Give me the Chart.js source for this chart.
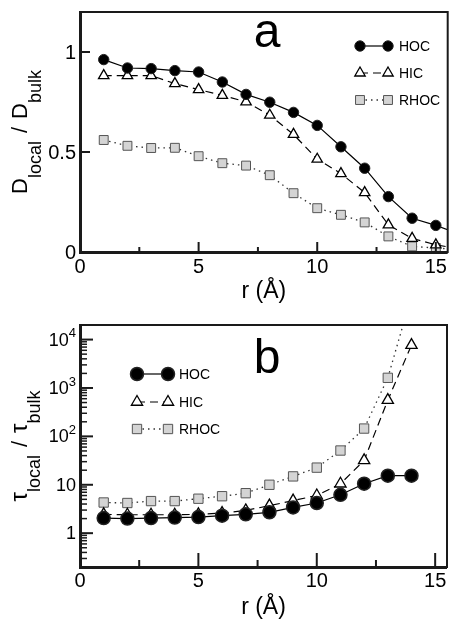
<!DOCTYPE html>
<html>
<head>
<meta charset="utf-8">
<script src="https://cdn.jsdelivr.net/npm/chart.js@4/dist/chart.umd.min.js"></script>
<style>
  html, body { margin: 0; padding: 0; background: #fff; }
  #wrap { position: relative; width: 455px; height: 623px; }
  #topBox { position: absolute; left: 0; top: 0; }
  #botBox { position: absolute; left: 0; top: 310px; }
</style>
</head>
<body>
<div id="wrap">
  <div id="topBox"><canvas id="chartD" width="455" height="310"></canvas></div>
  <div id="botBox"><canvas id="chartTau" width="455" height="313"></canvas></div>
</div>
<script>
// ---- data ----
const seriesNames = ['HOC', 'HIC', 'RHOC'];

// panel a: D_local / D_bulk vs r
const rD = [1, 2, 3, 4, 5, 6, 7, 8, 9, 10, 11, 12, 13, 14, 15, 16];
const hocD  = [0.962, 0.920, 0.917, 0.907, 0.900, 0.850, 0.788, 0.749, 0.698, 0.633, 0.526, 0.419, 0.277, 0.169, 0.133, 0.09];
const hicD  = [0.882, 0.882, 0.882, 0.842, 0.812, 0.783, 0.751, 0.684, 0.588, 0.464, 0.392, 0.297, 0.136, 0.068, 0.036, 0.015];
const rhocD = [0.560, 0.531, 0.520, 0.521, 0.479, 0.444, 0.432, 0.384, 0.294, 0.219, 0.186, 0.148, 0.078, 0.028, 0.020, 0.012];

// panel b: tau_local / tau_bulk vs r
const rTau = [1, 2, 3, 4, 5, 6, 7, 8, 9, 10, 11, 12, 13, 14];
const hocTau  = [2.05, 2.0, 2.05, 2.1, 2.15, 2.3, 2.45, 2.7, 3.4, 4.2, 6.2, 10.5, 15.4, 15.4];
const hicTau  = [2.45, 2.4, 2.4, 2.4, 2.45, 2.6, 2.95, 3.7, 4.7, 6.0, 10.5, 32, 560, 7700];
const rhocTau = [4.3, 4.2, 4.6, 4.6, 5.15, 5.8, 6.7, 10.0, 14.9, 22.6, 51, 145, 1620, 80000];

// ticks
const xTicks = [0, 5, 10, 15];
const xMinorTicks = [2.5, 7.5, 12.5];
const dTicks = [0, 0.5, 1];
const dTickLabels = ['0', '0.5', '1'];
const tauTicks = [1, 10, 100, 1000, 10000];
const tauTickLabels = [['1', ''], ['10', ''], ['10', '2'], ['10', '3'], ['10', '4']];

const FONT = '"Liberation Sans", Arial, Helvetica, sans-serif';

function pts(xs, ys) {
  return xs.map((x, i) => ({ x: x, y: ys[i] }));
}

// marker drawing for the hand-made legend
function drawMarker(ctx, ds, x, y) {
  const r = ds.pointRadius;
  ctx.save();
  ctx.setLineDash([]);
  ctx.fillStyle = ds.pointBackgroundColor;
  ctx.strokeStyle = ds.pointBorderColor;
  ctx.lineWidth = ds.pointBorderWidth;
  ctx.beginPath();
  if (ds.pointStyle === 'circle') {
    ctx.arc(x, y, r, 0, Math.PI * 2);
  } else if (ds.pointStyle === 'triangle') {
    let a = 0;
    ctx.moveTo(x + Math.sin(a) * r, y - Math.cos(a) * r);
    a += Math.PI * 2 / 3;
    ctx.lineTo(x + Math.sin(a) * r, y - Math.cos(a) * r);
    a += Math.PI * 2 / 3;
    ctx.lineTo(x + Math.sin(a) * r, y - Math.cos(a) * r);
    ctx.closePath();
  } else {
    const s = Math.SQRT1_2 * r;
    ctx.rect(x - s, y - s, 2 * s, 2 * s);
  }
  ctx.fill();
  ctx.stroke();
  ctx.restore();
}

// rotated axis title with subscripts
function drawYTitle(ctx, baseX, cy, parts) {
  ctx.save();
  let total = 0;
  parts.forEach(p => {
    ctx.font = p.size + 'px ' + FONT;
    p.w = ctx.measureText(p.t).width + (p.gap || 0);
    total += p.w;
  });
  ctx.translate(baseX, cy);
  ctx.rotate(-Math.PI / 2);
  ctx.fillStyle = '#000';
  ctx.textBaseline = 'alphabetic';
  ctx.textAlign = 'left';
  let x = -total / 2;
  parts.forEach(p => {
    ctx.font = p.size + 'px ' + FONT;
    ctx.fillText(p.t, x + (p.gap || 0) / 2, p.dy || 0);
    x += p.w;
  });
  ctx.restore();
}

function makeDecor(cfg) {
  return {
    id: 'decor',
    afterDatasetsDraw(chart) {
      const ctx = chart.ctx;
      const a = chart.chartArea;
      const xs = chart.scales.x;
      const ys = chart.scales.y;
      ctx.save();
      ctx.strokeStyle = '#1a1a1a';
      ctx.setLineDash([]);

      // frame
      ctx.lineWidth = 2;
      ctx.strokeRect(a.left, a.top, a.right - a.left, a.bottom - a.top);
      ctx.lineWidth = 3;
      ctx.beginPath();
      ctx.moveTo(a.left + 0.5, a.top);
      ctx.lineTo(a.left + 0.5, a.bottom + 0.5);
      ctx.lineTo(a.right, a.bottom + 0.5);
      ctx.stroke();

      // x ticks (inward)
      ctx.lineWidth = 2;
      xTicks.forEach(v => {
        const px = xs.getPixelForValue(v);
        ctx.beginPath();
        ctx.moveTo(px, a.bottom);
        ctx.lineTo(px, a.bottom - cfg.xMajor);
        ctx.stroke();
      });
      xMinorTicks.forEach(v => {
        const px = xs.getPixelForValue(v);
        ctx.beginPath();
        ctx.moveTo(px, a.bottom);
        ctx.lineTo(px, a.bottom - cfg.xMinor);
        ctx.stroke();
      });

      // y ticks (inward)
      cfg.yTicks.forEach(v => {
        const py = ys.getPixelForValue(v);
        ctx.beginPath();
        ctx.moveTo(a.left, py);
        ctx.lineTo(a.left + cfg.yMajor, py);
        ctx.stroke();
      });
      if (cfg.logMinor) {
        ctx.lineWidth = 1.5;
        for (let d = 0.1; d <= 10000; d *= 10) {
          for (let m = 2; m <= 9; m++) {
            const v = d * m;
            if (v < ys.min || v > ys.max) continue;
            const py = ys.getPixelForValue(v);
            ctx.beginPath();
            ctx.moveTo(a.left, py);
            ctx.lineTo(a.left + cfg.yMinor, py);
            ctx.stroke();
          }
        }
      }

      // tick labels
      ctx.fillStyle = '#000';
      ctx.font = cfg.xFont + 'px ' + FONT;
      ctx.textAlign = 'center';
      ctx.textBaseline = 'middle';
      xTicks.forEach(v => {
        ctx.fillText(String(v), xs.getPixelForValue(v), a.bottom + cfg.xLabelOff);
      });
      ctx.textAlign = 'right';
      cfg.yTicks.forEach((v, i) => {
        const py = ys.getPixelForValue(v);
        const lab = cfg.yLabels[i];
        const right = a.left - 4;
        if (Array.isArray(lab)) {
          ctx.font = cfg.expFont + 'px ' + FONT;
          const ew = lab[1] ? ctx.measureText(lab[1]).width : 0;
          if (lab[1]) ctx.fillText(lab[1], right, py - 6);
          ctx.font = cfg.yFont + 'px ' + FONT;
          ctx.fillText(lab[0], right - ew, py + 1);
        } else {
          ctx.font = cfg.yFont + 'px ' + FONT;
          ctx.fillText(lab, right, py + 1);
        }
      });

      // x title
      ctx.textAlign = 'center';
      ctx.font = '23px ' + FONT;
      ctx.fillText('r (\u00C5)', (a.left + a.right) / 2, a.bottom + cfg.xTitleOff);

      // y title
      drawYTitle(ctx, 27, (a.top + a.bottom) / 2, cfg.yTitle);

      // panel letter
      ctx.font = '48px ' + FONT;
      ctx.textAlign = 'center';
      ctx.textBaseline = 'alphabetic';
      ctx.fillText(cfg.letter, 267, cfg.letterY);

      // legend
      chart.data.datasets.forEach((ds, i) => {
        const y = cfg.legY[i];
        ctx.save();
        ctx.strokeStyle = ds.borderColor;
        ctx.lineWidth = ds.borderWidth;
        ctx.setLineDash(ds.borderDash || []);
        ctx.beginPath();
        ctx.moveTo(cfg.legX1, y);
        ctx.lineTo(cfg.legX2, y);
        ctx.stroke();
        ctx.restore();
        drawMarker(ctx, ds, cfg.legX1, y);
        drawMarker(ctx, ds, cfg.legX2, y);
        ctx.fillStyle = '#000';
        ctx.font = cfg.legFont + 'px ' + FONT;
        ctx.textAlign = 'left';
        ctx.textBaseline = 'middle';
        ctx.fillText(seriesNames[i], cfg.legText, y + 1);
      });
      ctx.restore();
    }
  };
}

function makeDatasets(xv, hoc, hic, rhoc, big) {
  return [
    {
      label: seriesNames[0], data: pts(xv, hoc),
      borderColor: '#000', borderWidth: 1.2, borderDash: [],
      pointStyle: 'circle', pointRadius: big ? 6.5 : 5.2,
      pointBackgroundColor: '#000', pointBorderColor: '#222', pointBorderWidth: big ? 1.5 : 1
    },
    {
      label: seriesNames[1], data: pts(xv, hic),
      borderColor: '#000', borderWidth: 1.2, borderDash: [8, 5],
      pointStyle: 'triangle', pointRadius: big ? 6.5 : 6,
      pointBackgroundColor: '#fff', pointBorderColor: '#000', pointBorderWidth: 1.3
    },
    {
      label: seriesNames[2], data: pts(xv, rhoc),
      borderColor: '#333', borderWidth: 1.3, borderDash: [1.5, 4],
      pointStyle: 'rect', pointRadius: big ? 6.6 : 6.3,
      pointBackgroundColor: '#d4d4d4', pointBorderColor: '#555', pointBorderWidth: 1
    }
  ];
}

function baseOptions(yScale, pad) {
  return {
    responsive: false,
    animation: false,
    layout: { padding: pad },
    plugins: { legend: { display: false }, tooltip: { enabled: false } },
    scales: {
      x: { type: 'linear', min: 0, max: 15.5, display: false },
      y: yScale
    },
    elements: { line: { tension: 0 } }
  };
}

new Chart(document.getElementById('chartD').getContext('2d'), {
  type: 'line',
  data: { datasets: makeDatasets(rD, hocD, hicD, rhocD, false) },
  options: baseOptions(
    { type: 'linear', min: 0, max: 1.2, display: false },
    { left: 80, right: 2, top: 12, bottom: 58 }
  ),
  plugins: [makeDecor({
    xMajor: 10, xMinor: 5, yMajor: 10, yMinor: 0, logMinor: false,
    yTicks: dTicks, yLabels: dTickLabels,
    xFont: 20, yFont: 20, expFont: 13, xLabelOff: 15, xTitleOff: 40,
    yTitle: [
      { t: 'D', size: 22 },
      { t: 'local', size: 18, dy: 14 },
      { t: '/', size: 22, gap: 16 },
      { t: 'D', size: 22 },
      { t: 'bulk', size: 18, dy: 14 }
    ],
    letter: 'a', letterY: 47,
    legX1: 360, legX2: 388, legText: 399, legY: [46, 73, 100], legFont: 14
  })]
});

new Chart(document.getElementById('chartTau').getContext('2d'), {
  type: 'line',
  data: { datasets: makeDatasets(rTau, hocTau, hicTau, rhocTau, true) },
  options: baseOptions(
    { type: 'logarithmic', min: 0.2, max: 20000, display: false },
    { left: 80, right: 2, top: 15, bottom: 56 }
  ),
  plugins: [makeDecor({
    xMajor: 14, xMinor: 7, yMajor: 13, yMinor: 7, logMinor: true,
    yTicks: tauTicks, yLabels: tauTickLabels,
    xFont: 20, yFont: 18, expFont: 13, xLabelOff: 14, xTitleOff: 41,
    yTitle: [
      { t: '\u03C4', size: 24 },
      { t: 'local', size: 18, dy: 13 },
      { t: '/', size: 22, gap: 16 },
      { t: '\u03C4', size: 24 },
      { t: 'bulk', size: 18, dy: 13 }
    ],
    letter: 'b', letterY: 63,
    legX1: 137, legX2: 168, legText: 179, legY: [64, 92, 119], legFont: 14
  })]
});
</script>
</body>
</html>
